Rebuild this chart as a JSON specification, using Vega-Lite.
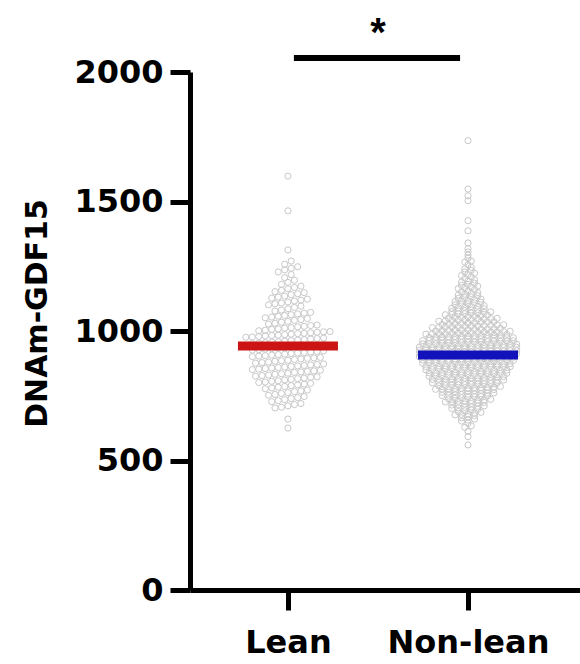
{
  "$schema": "https://vega.github.io/schema/vega-lite/v6.json",
  "width": 390,
  "height": 518,
  "autosize": {"type": "none"},
  "padding": {"left": 190, "top": 72, "right": 0, "bottom": 74},
  "background": "white",
  "config": {"view": {"stroke": null}, "font": "DejaVu Sans"},
  "data": {"values": [
    {"g":"Lean","v":1598},{"g":"Lean","v":1464},{"g":"Lean","v":1313},
    {"g":"Lean","v":1258},{"g":"Lean","v":1270},
    {"g":"Lean","v":1228},{"g":"Lean","v":1236},{"g":"Lean","v":1242},{"g":"Lean","v":1248},
    {"g":"Lean","v":1206},{"g":"Lean","v":1218},
    {"g":"Lean","v":1180},{"g":"Lean","v":1188},{"g":"Lean","v":1196},
    {"g":"Lean","v":1152},{"g":"Lean","v":1157},{"g":"Lean","v":1163},{"g":"Lean","v":1168},{"g":"Lean","v":1173},
    {"g":"Lean","v":1127},{"g":"Lean","v":1131},{"g":"Lean","v":1135},{"g":"Lean","v":1140},{"g":"Lean","v":1144},{"g":"Lean","v":1148},
    {"g":"Lean","v":1101},{"g":"Lean","v":1105},{"g":"Lean","v":1108},{"g":"Lean","v":1112},{"g":"Lean","v":1116},{"g":"Lean","v":1119},{"g":"Lean","v":1123},
    {"g":"Lean","v":1077},{"g":"Lean","v":1081},{"g":"Lean","v":1086},{"g":"Lean","v":1091},{"g":"Lean","v":1096},
    {"g":"Lean","v":1051},{"g":"Lean","v":1054},{"g":"Lean","v":1057},{"g":"Lean","v":1060},{"g":"Lean","v":1063},{"g":"Lean","v":1066},{"g":"Lean","v":1069},{"g":"Lean","v":1072},
    {"g":"Lean","v":1027},{"g":"Lean","v":1030},{"g":"Lean","v":1034},{"g":"Lean","v":1037},{"g":"Lean","v":1041},{"g":"Lean","v":1044},{"g":"Lean","v":1048},
    {"g":"Lean","v":1001},{"g":"Lean","v":1003},{"g":"Lean","v":1006},{"g":"Lean","v":1008},{"g":"Lean","v":1011},{"g":"Lean","v":1013},{"g":"Lean","v":1016},{"g":"Lean","v":1018},{"g":"Lean","v":1021},{"g":"Lean","v":1023},
    {"g":"Lean","v":976},{"g":"Lean","v":977},{"g":"Lean","v":979},{"g":"Lean","v":981},{"g":"Lean","v":983},{"g":"Lean","v":984},{"g":"Lean","v":986},{"g":"Lean","v":988},{"g":"Lean","v":990},{"g":"Lean","v":991},{"g":"Lean","v":993},{"g":"Lean","v":995},{"g":"Lean","v":997},{"g":"Lean","v":998},
    {"g":"Lean","v":951},{"g":"Lean","v":953},{"g":"Lean","v":955},{"g":"Lean","v":957},{"g":"Lean","v":959},{"g":"Lean","v":961},{"g":"Lean","v":963},{"g":"Lean","v":965},{"g":"Lean","v":967},{"g":"Lean","v":969},{"g":"Lean","v":971},{"g":"Lean","v":973},
    {"g":"Lean","v":926},{"g":"Lean","v":928},{"g":"Lean","v":930},{"g":"Lean","v":932},{"g":"Lean","v":934},{"g":"Lean","v":936},{"g":"Lean","v":938},{"g":"Lean","v":940},{"g":"Lean","v":942},{"g":"Lean","v":944},{"g":"Lean","v":946},{"g":"Lean","v":948},
    {"g":"Lean","v":901},{"g":"Lean","v":903},{"g":"Lean","v":905},{"g":"Lean","v":907},{"g":"Lean","v":909},{"g":"Lean","v":911},{"g":"Lean","v":913},{"g":"Lean","v":915},{"g":"Lean","v":917},{"g":"Lean","v":919},{"g":"Lean","v":921},{"g":"Lean","v":923},
    {"g":"Lean","v":876},{"g":"Lean","v":878},{"g":"Lean","v":880},{"g":"Lean","v":883},{"g":"Lean","v":885},{"g":"Lean","v":887},{"g":"Lean","v":890},{"g":"Lean","v":892},{"g":"Lean","v":894},{"g":"Lean","v":896},{"g":"Lean","v":898},
    {"g":"Lean","v":851},{"g":"Lean","v":853},{"g":"Lean","v":855},{"g":"Lean","v":857},{"g":"Lean","v":859},{"g":"Lean","v":861},{"g":"Lean","v":863},{"g":"Lean","v":865},{"g":"Lean","v":867},{"g":"Lean","v":869},{"g":"Lean","v":871},{"g":"Lean","v":873},
    {"g":"Lean","v":826},{"g":"Lean","v":828},{"g":"Lean","v":830},{"g":"Lean","v":833},{"g":"Lean","v":835},{"g":"Lean","v":837},{"g":"Lean","v":840},{"g":"Lean","v":842},{"g":"Lean","v":844},{"g":"Lean","v":846},{"g":"Lean","v":848},
    {"g":"Lean","v":801},{"g":"Lean","v":803},{"g":"Lean","v":806},{"g":"Lean","v":808},{"g":"Lean","v":811},{"g":"Lean","v":813},{"g":"Lean","v":816},{"g":"Lean","v":818},{"g":"Lean","v":821},{"g":"Lean","v":823},
    {"g":"Lean","v":777},{"g":"Lean","v":780},{"g":"Lean","v":783},{"g":"Lean","v":786},{"g":"Lean","v":789},{"g":"Lean","v":792},{"g":"Lean","v":795},{"g":"Lean","v":798},
    {"g":"Lean","v":752},{"g":"Lean","v":755},{"g":"Lean","v":759},{"g":"Lean","v":762},{"g":"Lean","v":766},{"g":"Lean","v":769},{"g":"Lean","v":772},
    {"g":"Lean","v":727},{"g":"Lean","v":731},{"g":"Lean","v":735},{"g":"Lean","v":739},{"g":"Lean","v":743},{"g":"Lean","v":747},
    {"g":"Lean","v":703},{"g":"Lean","v":706},{"g":"Lean","v":711},{"g":"Lean","v":716},{"g":"Lean","v":720},
    {"g":"Lean","v":660},{"g":"Lean","v":625},

    {"g":"Non-lean","v":1735},{"g":"Non-lean","v":1548},{"g":"Non-lean","v":1522},{"g":"Non-lean","v":1503},{"g":"Non-lean","v":1426},{"g":"Non-lean","v":1387},{"g":"Non-lean","v":1340},
    {"g":"Non-lean","v":1305},{"g":"Non-lean","v":1318},
    {"g":"Non-lean","v":1281},{"g":"Non-lean","v":1293},
    {"g":"Non-lean","v":1256},{"g":"Non-lean","v":1266},{"g":"Non-lean","v":1270},
    {"g":"Non-lean","v":1228},{"g":"Non-lean","v":1234},{"g":"Non-lean","v":1240},{"g":"Non-lean","v":1246},
    {"g":"Non-lean","v":1203},{"g":"Non-lean","v":1209},{"g":"Non-lean","v":1214},{"g":"Non-lean","v":1218},{"g":"Non-lean","v":1223},
    {"g":"Non-lean","v":1176},{"g":"Non-lean","v":1180},{"g":"Non-lean","v":1185},{"g":"Non-lean","v":1189},{"g":"Non-lean","v":1193},{"g":"Non-lean","v":1198},
    {"g":"Non-lean","v":1151},{"g":"Non-lean","v":1155},{"g":"Non-lean","v":1160},{"g":"Non-lean","v":1164},{"g":"Non-lean","v":1167},{"g":"Non-lean","v":1170},{"g":"Non-lean","v":1173},
    {"g":"Non-lean","v":1126},{"g":"Non-lean","v":1129},{"g":"Non-lean","v":1132},{"g":"Non-lean","v":1136},{"g":"Non-lean","v":1139},{"g":"Non-lean","v":1142},{"g":"Non-lean","v":1145},{"g":"Non-lean","v":1148},
    {"g":"Non-lean","v":1101},{"g":"Non-lean","v":1103},{"g":"Non-lean","v":1105},{"g":"Non-lean","v":1108},{"g":"Non-lean","v":1111},{"g":"Non-lean","v":1114},{"g":"Non-lean","v":1116},{"g":"Non-lean","v":1118},{"g":"Non-lean","v":1121},{"g":"Non-lean","v":1123},
    {"g":"Non-lean","v":1075},{"g":"Non-lean","v":1077},{"g":"Non-lean","v":1079},{"g":"Non-lean","v":1081},{"g":"Non-lean","v":1083},{"g":"Non-lean","v":1086},{"g":"Non-lean","v":1088},{"g":"Non-lean","v":1090},{"g":"Non-lean","v":1092},{"g":"Non-lean","v":1094},{"g":"Non-lean","v":1096},{"g":"Non-lean","v":1098},
    {"g":"Non-lean","v":1050},{"g":"Non-lean","v":1052},{"g":"Non-lean","v":1053},{"g":"Non-lean","v":1055},{"g":"Non-lean","v":1057},{"g":"Non-lean","v":1059},{"g":"Non-lean","v":1061},{"g":"Non-lean","v":1063},{"g":"Non-lean","v":1064},{"g":"Non-lean","v":1066},{"g":"Non-lean","v":1067},{"g":"Non-lean","v":1069},{"g":"Non-lean","v":1070},{"g":"Non-lean","v":1072},{"g":"Non-lean","v":1074},
    {"g":"Non-lean","v":1025},{"g":"Non-lean","v":1026},{"g":"Non-lean","v":1028},{"g":"Non-lean","v":1029},{"g":"Non-lean","v":1031},{"g":"Non-lean","v":1032},{"g":"Non-lean","v":1034},{"g":"Non-lean","v":1035},{"g":"Non-lean","v":1036},{"g":"Non-lean","v":1038},{"g":"Non-lean","v":1039},{"g":"Non-lean","v":1041},{"g":"Non-lean","v":1042},{"g":"Non-lean","v":1043},{"g":"Non-lean","v":1044},{"g":"Non-lean","v":1046},{"g":"Non-lean","v":1047},{"g":"Non-lean","v":1048},{"g":"Non-lean","v":1049},
    {"g":"Non-lean","v":1000},{"g":"Non-lean","v":1001},{"g":"Non-lean","v":1002},{"g":"Non-lean","v":1003},{"g":"Non-lean","v":1004},{"g":"Non-lean","v":1005},{"g":"Non-lean","v":1006},{"g":"Non-lean","v":1007},{"g":"Non-lean","v":1008},{"g":"Non-lean","v":1009},{"g":"Non-lean","v":1010},
    {"g":"Non-lean","v":1013},{"g":"Non-lean","v":1014},{"g":"Non-lean","v":1015},{"g":"Non-lean","v":1016},{"g":"Non-lean","v":1017},{"g":"Non-lean","v":1018},{"g":"Non-lean","v":1019},{"g":"Non-lean","v":1020},{"g":"Non-lean","v":1021},{"g":"Non-lean","v":1022},{"g":"Non-lean","v":1023},{"g":"Non-lean","v":1024},
    {"g":"Non-lean","v":975},{"g":"Non-lean","v":976},{"g":"Non-lean","v":977},{"g":"Non-lean","v":978},{"g":"Non-lean","v":979},{"g":"Non-lean","v":980},{"g":"Non-lean","v":981},{"g":"Non-lean","v":982},{"g":"Non-lean","v":983},{"g":"Non-lean","v":984},{"g":"Non-lean","v":985},{"g":"Non-lean","v":986},{"g":"Non-lean","v":987},
    {"g":"Non-lean","v":988},{"g":"Non-lean","v":989},{"g":"Non-lean","v":990},{"g":"Non-lean","v":990},{"g":"Non-lean","v":991},{"g":"Non-lean","v":992},{"g":"Non-lean","v":993},{"g":"Non-lean","v":994},{"g":"Non-lean","v":995},{"g":"Non-lean","v":996},{"g":"Non-lean","v":996},{"g":"Non-lean","v":997},{"g":"Non-lean","v":998},{"g":"Non-lean","v":999},
    {"g":"Non-lean","v":950},{"g":"Non-lean","v":951},{"g":"Non-lean","v":951},{"g":"Non-lean","v":952},{"g":"Non-lean","v":953},{"g":"Non-lean","v":954},{"g":"Non-lean","v":955},{"g":"Non-lean","v":956},{"g":"Non-lean","v":957},{"g":"Non-lean","v":958},{"g":"Non-lean","v":959},{"g":"Non-lean","v":960},{"g":"Non-lean","v":960},{"g":"Non-lean","v":961},{"g":"Non-lean","v":962},
    {"g":"Non-lean","v":963},{"g":"Non-lean","v":964},{"g":"Non-lean","v":965},{"g":"Non-lean","v":965},{"g":"Non-lean","v":966},{"g":"Non-lean","v":967},{"g":"Non-lean","v":968},{"g":"Non-lean","v":969},{"g":"Non-lean","v":970},{"g":"Non-lean","v":970},{"g":"Non-lean","v":971},{"g":"Non-lean","v":972},{"g":"Non-lean","v":973},{"g":"Non-lean","v":974},{"g":"Non-lean","v":974},
    {"g":"Non-lean","v":925},{"g":"Non-lean","v":926},{"g":"Non-lean","v":926},{"g":"Non-lean","v":927},{"g":"Non-lean","v":928},{"g":"Non-lean","v":929},{"g":"Non-lean","v":930},{"g":"Non-lean","v":931},{"g":"Non-lean","v":931},{"g":"Non-lean","v":932},{"g":"Non-lean","v":933},{"g":"Non-lean","v":934},{"g":"Non-lean","v":935},{"g":"Non-lean","v":936},{"g":"Non-lean","v":936},{"g":"Non-lean","v":937},
    {"g":"Non-lean","v":938},{"g":"Non-lean","v":939},{"g":"Non-lean","v":939},{"g":"Non-lean","v":940},{"g":"Non-lean","v":941},{"g":"Non-lean","v":942},{"g":"Non-lean","v":943},{"g":"Non-lean","v":944},{"g":"Non-lean","v":944},{"g":"Non-lean","v":945},{"g":"Non-lean","v":946},{"g":"Non-lean","v":947},{"g":"Non-lean","v":948},{"g":"Non-lean","v":948},{"g":"Non-lean","v":949},{"g":"Non-lean","v":949},
    {"g":"Non-lean","v":900},{"g":"Non-lean","v":901},{"g":"Non-lean","v":901},{"g":"Non-lean","v":902},{"g":"Non-lean","v":903},{"g":"Non-lean","v":904},{"g":"Non-lean","v":905},{"g":"Non-lean","v":906},{"g":"Non-lean","v":906},{"g":"Non-lean","v":907},{"g":"Non-lean","v":908},{"g":"Non-lean","v":909},{"g":"Non-lean","v":910},{"g":"Non-lean","v":911},{"g":"Non-lean","v":911},{"g":"Non-lean","v":912},
    {"g":"Non-lean","v":913},{"g":"Non-lean","v":914},{"g":"Non-lean","v":914},{"g":"Non-lean","v":915},{"g":"Non-lean","v":916},{"g":"Non-lean","v":917},{"g":"Non-lean","v":918},{"g":"Non-lean","v":919},{"g":"Non-lean","v":919},{"g":"Non-lean","v":920},{"g":"Non-lean","v":921},{"g":"Non-lean","v":922},{"g":"Non-lean","v":923},{"g":"Non-lean","v":923},{"g":"Non-lean","v":924},{"g":"Non-lean","v":924},
    {"g":"Non-lean","v":875},{"g":"Non-lean","v":876},{"g":"Non-lean","v":877},{"g":"Non-lean","v":878},{"g":"Non-lean","v":879},{"g":"Non-lean","v":879},{"g":"Non-lean","v":880},{"g":"Non-lean","v":881},{"g":"Non-lean","v":882},{"g":"Non-lean","v":883},{"g":"Non-lean","v":884},{"g":"Non-lean","v":885},{"g":"Non-lean","v":886},{"g":"Non-lean","v":886},{"g":"Non-lean","v":887},
    {"g":"Non-lean","v":888},{"g":"Non-lean","v":889},{"g":"Non-lean","v":890},{"g":"Non-lean","v":891},{"g":"Non-lean","v":891},{"g":"Non-lean","v":892},{"g":"Non-lean","v":893},{"g":"Non-lean","v":894},{"g":"Non-lean","v":895},{"g":"Non-lean","v":896},{"g":"Non-lean","v":896},{"g":"Non-lean","v":897},{"g":"Non-lean","v":898},{"g":"Non-lean","v":899},{"g":"Non-lean","v":899},
    {"g":"Non-lean","v":850},{"g":"Non-lean","v":851},{"g":"Non-lean","v":852},{"g":"Non-lean","v":853},{"g":"Non-lean","v":854},{"g":"Non-lean","v":855},{"g":"Non-lean","v":856},{"g":"Non-lean","v":857},{"g":"Non-lean","v":858},{"g":"Non-lean","v":859},{"g":"Non-lean","v":860},{"g":"Non-lean","v":861},{"g":"Non-lean","v":861},{"g":"Non-lean","v":862},
    {"g":"Non-lean","v":863},{"g":"Non-lean","v":864},{"g":"Non-lean","v":865},{"g":"Non-lean","v":866},{"g":"Non-lean","v":867},{"g":"Non-lean","v":868},{"g":"Non-lean","v":869},{"g":"Non-lean","v":870},{"g":"Non-lean","v":871},{"g":"Non-lean","v":872},{"g":"Non-lean","v":873},{"g":"Non-lean","v":873},{"g":"Non-lean","v":874},{"g":"Non-lean","v":874},
    {"g":"Non-lean","v":825},{"g":"Non-lean","v":826},{"g":"Non-lean","v":827},{"g":"Non-lean","v":828},{"g":"Non-lean","v":829},{"g":"Non-lean","v":830},{"g":"Non-lean","v":831},{"g":"Non-lean","v":832},{"g":"Non-lean","v":833},{"g":"Non-lean","v":834},{"g":"Non-lean","v":835},{"g":"Non-lean","v":836},{"g":"Non-lean","v":837},
    {"g":"Non-lean","v":838},{"g":"Non-lean","v":839},{"g":"Non-lean","v":840},{"g":"Non-lean","v":841},{"g":"Non-lean","v":842},{"g":"Non-lean","v":843},{"g":"Non-lean","v":844},{"g":"Non-lean","v":845},{"g":"Non-lean","v":846},{"g":"Non-lean","v":847},{"g":"Non-lean","v":848},{"g":"Non-lean","v":849},{"g":"Non-lean","v":849},
    {"g":"Non-lean","v":800},{"g":"Non-lean","v":801},{"g":"Non-lean","v":802},{"g":"Non-lean","v":803},{"g":"Non-lean","v":804},{"g":"Non-lean","v":805},{"g":"Non-lean","v":806},{"g":"Non-lean","v":807},{"g":"Non-lean","v":808},{"g":"Non-lean","v":809},{"g":"Non-lean","v":810},{"g":"Non-lean","v":811},
    {"g":"Non-lean","v":813},{"g":"Non-lean","v":814},{"g":"Non-lean","v":815},{"g":"Non-lean","v":816},{"g":"Non-lean","v":817},{"g":"Non-lean","v":818},{"g":"Non-lean","v":819},{"g":"Non-lean","v":820},{"g":"Non-lean","v":821},{"g":"Non-lean","v":822},{"g":"Non-lean","v":823},{"g":"Non-lean","v":824},
    {"g":"Non-lean","v":775},{"g":"Non-lean","v":776},{"g":"Non-lean","v":777},{"g":"Non-lean","v":778},{"g":"Non-lean","v":779},{"g":"Non-lean","v":780},{"g":"Non-lean","v":781},{"g":"Non-lean","v":782},{"g":"Non-lean","v":783},{"g":"Non-lean","v":784},{"g":"Non-lean","v":786},
    {"g":"Non-lean","v":788},{"g":"Non-lean","v":789},{"g":"Non-lean","v":791},{"g":"Non-lean","v":792},{"g":"Non-lean","v":793},{"g":"Non-lean","v":794},{"g":"Non-lean","v":795},{"g":"Non-lean","v":796},{"g":"Non-lean","v":797},{"g":"Non-lean","v":799},
    {"g":"Non-lean","v":751},{"g":"Non-lean","v":752},{"g":"Non-lean","v":753},{"g":"Non-lean","v":755},{"g":"Non-lean","v":756},{"g":"Non-lean","v":757},{"g":"Non-lean","v":758},{"g":"Non-lean","v":760},{"g":"Non-lean","v":761},
    {"g":"Non-lean","v":763},{"g":"Non-lean","v":764},{"g":"Non-lean","v":766},{"g":"Non-lean","v":767},{"g":"Non-lean","v":769},{"g":"Non-lean","v":770},{"g":"Non-lean","v":771},{"g":"Non-lean","v":772},{"g":"Non-lean","v":774},
    {"g":"Non-lean","v":726},{"g":"Non-lean","v":727},{"g":"Non-lean","v":729},{"g":"Non-lean","v":730},{"g":"Non-lean","v":731},{"g":"Non-lean","v":733},{"g":"Non-lean","v":734},{"g":"Non-lean","v":736},
    {"g":"Non-lean","v":738},{"g":"Non-lean","v":740},{"g":"Non-lean","v":742},{"g":"Non-lean","v":744},{"g":"Non-lean","v":746},{"g":"Non-lean","v":747},{"g":"Non-lean","v":749},
    {"g":"Non-lean","v":701},{"g":"Non-lean","v":703},{"g":"Non-lean","v":705},{"g":"Non-lean","v":707},{"g":"Non-lean","v":709},{"g":"Non-lean","v":711},
    {"g":"Non-lean","v":714},{"g":"Non-lean","v":716},{"g":"Non-lean","v":718},{"g":"Non-lean","v":720},{"g":"Non-lean","v":722},{"g":"Non-lean","v":724},
    {"g":"Non-lean","v":676},{"g":"Non-lean","v":678},{"g":"Non-lean","v":680},{"g":"Non-lean","v":683},{"g":"Non-lean","v":686},
    {"g":"Non-lean","v":689},{"g":"Non-lean","v":692},{"g":"Non-lean","v":695},{"g":"Non-lean","v":698},
    {"g":"Non-lean","v":652},{"g":"Non-lean","v":656},{"g":"Non-lean","v":660},
    {"g":"Non-lean","v":665},{"g":"Non-lean","v":669},{"g":"Non-lean","v":673},
    {"g":"Non-lean","v":628},{"g":"Non-lean","v":634},{"g":"Non-lean","v":644},
    {"g":"Non-lean","v":612},{"g":"Non-lean","v":592},{"g":"Non-lean","v":560}
  ]},
  "layer": [
    {
      "transform": [
        {"calculate": "datum.g === 'Lean' ? 1 : 2", "as": "gi"},
        {"calculate": "floor(datum.v / (datum.g === 'Lean' ? 25 : 12.5))", "as": "vb"},
        {"joinaggregate": [{"op": "count", "as": "n"}], "groupby": ["g", "vb"]},
        {"window": [{"op": "row_number", "as": "r"}], "groupby": ["g", "vb"], "sort": [{"field": "v", "order": "ascending"}]},
        {"calculate": "datum.gi + (datum.r - (datum.n + 1) / 2) * 0.036", "as": "xp"}
      ],
      "mark": {"type": "point", "shape": "circle", "filled": false, "size": 38, "stroke": "#c8c8c8", "strokeWidth": 1, "opacity": 1},
      "encoding": {
        "x": {
          "field": "xp", "type": "quantitative",
          "scale": {"domain": [0.456, 2.622], "nice": false, "zero": false},
          "axis": {
            "values": [1, 2],
            "labelExpr": "datum.value == 1 ? 'Lean' : 'Non-lean'",
            "title": null, "grid": false,
            "domainColor": "black", "domainWidth": 5,
            "tickColor": "black", "tickWidth": 5, "tickSize": 20,
            "labelFontSize": 32, "labelFontWeight": "bold", "labelColor": "black",
            "labelPadding": 17, "labelFont": "DejaVu Sans"
          }
        },
        "y": {
          "field": "v", "type": "quantitative",
          "scale": {"domain": [0, 2000], "nice": false},
          "axis": {
            "values": [0, 500, 1000, 1500, 2000],
            "format": "d",
            "grid": false,
            "domainColor": "black", "domainWidth": 5,
            "tickColor": "black", "tickWidth": 5, "tickSize": 20,
            "labelFontSize": 32, "labelFontWeight": "bold", "labelColor": "black",
            "labelPadding": 7, "labelFont": "DejaVu Sans",
            "title": "DNAm-GDF15", "titleFontSize": 30, "titleFontWeight": "bold",
            "titleColor": "black", "titleFont": "DejaVu Sans",
            "titleX": -153, "titleY": 241, "titleBaseline": "middle", "titleAlign": "center"
          }
        }
      }
    },
    {
      "data": {"values": [{"g": "Lean", "mean": 942}, {"g": "Non-lean", "mean": 907}]},
      "transform": [{"calculate": "datum.g === 'Lean' ? 1 : 2", "as": "gi"}],
      "mark": {"type": "tick", "orient": "horizontal", "size": 100, "thickness": 9, "opacity": 1},
      "encoding": {
        "x": {"field": "gi", "type": "quantitative"},
        "y": {"field": "mean", "type": "quantitative"},
        "color": {"field": "g", "type": "nominal", "scale": {"domain": ["Lean", "Non-lean"], "range": ["#cc1414", "#1212bb"]}, "legend": null}
      }
    },
    {
      "data": {"values": [{}]},
      "mark": {"type": "rule", "strokeWidth": 6, "color": "black"},
      "encoding": {
        "x": {"datum": 1.033, "type": "quantitative"},
        "x2": {"datum": 1.956},
        "y": {"datum": 2054, "type": "quantitative"}
      }
    },
    {
      "data": {"values": [{}]},
      "mark": {"type": "text", "text": "*", "fontSize": 40, "fontWeight": "bold", "font": "Liberation Sans", "baseline": "alphabetic", "align": "center", "color": "black"},
      "encoding": {
        "x": {"datum": 1.5, "type": "quantitative"},
        "y": {"datum": 2102, "type": "quantitative"}
      }
    }
  ]
}
